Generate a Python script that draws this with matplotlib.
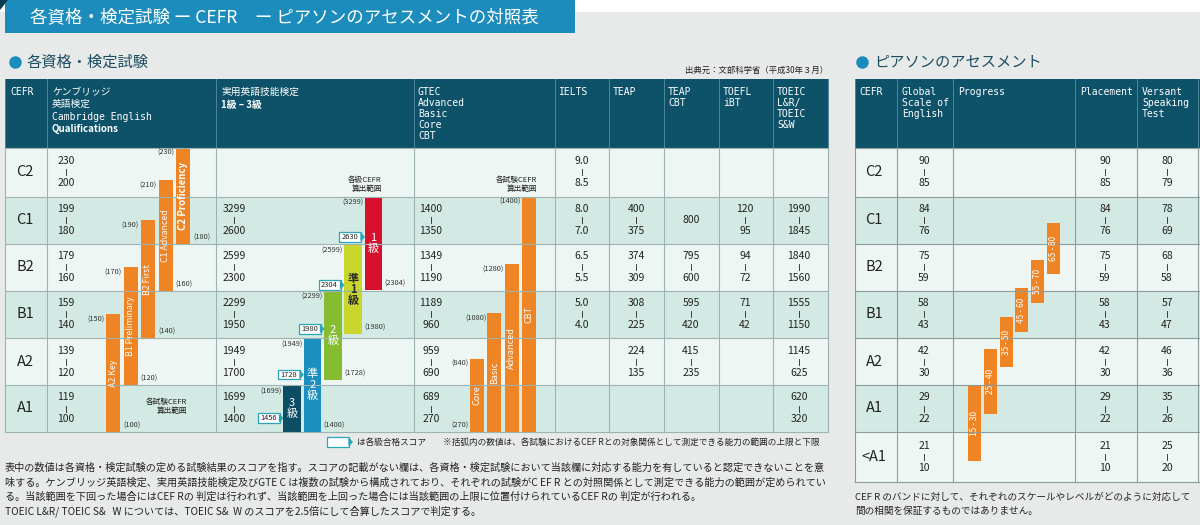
import numpy as np
import matplotlib
matplotlib.use("Agg")
import matplotlib.pyplot as plt
from matplotlib.patches import Rectangle, Polygon

JP = ["Noto Sans CJK JP", "DejaVu Sans"]
MONO = ["DejaVu Sans Mono", "Noto Sans CJK JP"]
plt.rcParams["font.family"] = JP

# ---- data: left table (各資格・検定試験) ----
CEFR = ["C2", "C1", "B2", "B1", "A2", "A1"]
CAMBRIDGE = [("230", "200"), ("199", "180"), ("179", "160"), ("159", "140"), ("139", "120"), ("119", "100")]
EIKEN = [None, ("3299", "2600"), ("2599", "2300"), ("2299", "1950"), ("1949", "1700"), ("1699", "1400")]
GTEC = [None, ("1400", "1350"), ("1349", "1190"), ("1189", "960"), ("959", "690"), ("689", "270")]
IELTS = [("9.0", "8.5"), ("8.0", "7.0"), ("6.5", "5.5"), ("5.0", "4.0"), None, None]
TEAP = [None, ("400", "375"), ("374", "309"), ("308", "225"), ("224", "135"), None]
TEAP_CBT = [None, ("800",), ("795", "600"), ("595", "420"), ("415", "235"), None]
TOEFL = [None, ("120", "95"), ("94", "72"), ("71", "42"), None, None]
TOEIC = [None, ("1990", "1845"), ("1840", "1560"), ("1555", "1150"), ("1145", "625"), ("620", "320")]

CAMB_EXAMS = ["A2 Key", "B1 Preliminary", "B2 First", "C1 Advanced", "C2 Proficiency"]
CAMB_LOW = [100, 120, 140, 160, 180]
CAMB_HIGH = [150, 170, 190, 210, 230]

EIKEN_GRADES = ["3\n級", "準\n2\n級", "2\n級", "準\n1\n級", "1\n級"]
EIKEN_LOW = [1400, 1400, 1728, 1980, 2304]
EIKEN_HIGH = [1699, 1949, 2299, 2599, 3299]
EIKEN_PASS = [1456, 1728, 1980, 2304, 2630]

GTEC_TYPES = ["Core", "Basic", "Advanced", "CBT"]
GTEC_LOW = [270, 270, 270, 270]
GTEC_HIGH = [840, 1080, 1280, 1400]

# ---- data: right table (ピアソンのアセスメント) ----
P_CEFR = ["C2", "C1", "B2", "B1", "A2", "A1", "<A1"]
GSE = [("90", "85"), ("84", "76"), ("75", "59"), ("58", "43"), ("42", "30"), ("29", "22"), ("21", "10")]
PLACEMENT = [("90", "85"), ("84", "76"), ("75", "59"), ("58", "43"), ("42", "30"), ("29", "22"), ("21", "10")]
VERSANT = [("80", "79"), ("78", "69"), ("68", "58"), ("57", "47"), ("46", "36"), ("35", "26"), ("25", "20")]
PROG_LOW = [15, 25, 35, 45, 55, 65]
PROG_HIGH = [30, 40, 50, 60, 70, 80]

# ---- style / layout ----
BG, HEAD, LIGHT, MINT = "#e8eaea", "#0d5269", "#eef6f4", "#d3eae4"
ORANGE, TEAL, TXT, GRID = "#ee8424", "#2aa6b8", "#222222", "#9fb2b2"
EIKEN_COLORS = ["#0c4d63", "#1b8fc0", "#86bd30", "#c9d62c", "#d6102d"]
EIKEN_TXT = ["white", "white", "white", "#2b2b2b", "white"]
ROW_Y = [148, 196.7, 244, 290.7, 338, 385, 432, 482]
COL_X = [5, 47, 216, 414, 555, 609, 664, 719, 773, 828]
P_COL_X = [855, 897, 953, 1075, 1137, 1198, 1230]
HEAD_TOP = 79

fig = plt.figure(figsize=(12, 5.25), dpi=100, facecolor=BG)
ax = fig.add_axes([0, 0, 1, 1])
ax.set_xlim(0, 1200)
ax.set_ylim(525, 0)
ax.axis("off")


def rect(x0, y0, x1, y1, **kw):
    ax.add_patch(Rectangle((x0, y0), x1 - x0, y1 - y0, **kw))


def band_scale(ranges, edges_y):
    idx = [i for i, r in enumerate(ranges) if r is not None]
    scores = [float(ranges[i][-1]) for i in reversed(idx)] + [float(ranges[idx[0]][0])]
    ys = [edges_y[i + 1] for i in reversed(idx)] + [edges_y[idx[0]]]
    return lambda s: np.interp(s, scores, ys)


def range_cell(xc, yc, vals, size=7.5):
    if vals is None:
        return
    if len(vals) == 1:
        ax.text(xc, yc, vals[0], ha="center", va="center", fontsize=size, color=TXT)
        return
    ax.text(xc, yc - 11, vals[0], ha="center", va="center", fontsize=size, color=TXT)
    ax.plot([xc, xc], [yc - 3, yc + 3], color=TXT, lw=0.6)
    ax.text(xc, yc + 11, vals[1], ha="center", va="center", fontsize=size, color=TXT)


def head_lines(x, lines, step=11.5, bold_last=False):
    for k, s in enumerate(lines):
        bold = bold_last and k == len(lines) - 1
        ax.text(x, 92 + k * step, s, ha="left", va="center", fontsize=7, color="white",
                family=JP if bold else MONO, fontweight="bold" if bold else "normal")


def badge(x_tip, yc, txt):
    w, h = 22, 9.5
    rect(x_tip - 3 - w, yc - h / 2, x_tip - 3, yc + h / 2, fc="white", ec=TEAL, lw=0.9)
    ax.add_patch(Polygon([(x_tip - 3, yc - 3.5), (x_tip, yc), (x_tip - 3, yc + 3.5)], color=TEAL))
    ax.text(x_tip - 3 - w / 2, yc, txt, ha="center", va="center", fontsize=5.4, color=TXT)


def small(x, y, s, ha):
    ax.text(x, y, s, ha=ha, va="center", fontsize=5.3, color="#333333")


# ---- title and headings ----
rect(0, 0, 1200, 12, fc="white", ec="none")
rect(5, 0, 575, 33, fc="#1b8cbc", ec="none")
ax.add_patch(Polygon([(0, 0), (7, 0), (0, 9)], color="#0b3d55"))
ax.text(30, 17, "各資格・検定試験 ー CEFR　ー ピアソンのアセスメントの対照表", ha="left", va="center",
        fontsize=12.6, color="white")
for xd, s in [(15, "各資格・検定試験"), (862, "ピアソンのアセスメント")]:
    ax.plot(xd, 62, "o", ms=8, color="#1b8cbc")
    ax.text(xd + 12, 62, s, ha="left", va="center", fontsize=11, color="#1d4f63")
ax.text(828, 70, "出典元：文部科学省（平成30年３月）", ha="right", va="center", fontsize=6, color=TXT)

# ---- left table grid ----
rect(COL_X[0], HEAD_TOP, COL_X[-1], ROW_Y[0], fc=HEAD, ec="none")
for i in range(6):
    rect(COL_X[0], ROW_Y[i], COL_X[-1], ROW_Y[i + 1], fc=LIGHT if i % 2 == 0 else MINT, ec="none")
for x in COL_X:
    ax.plot([x, x], [HEAD_TOP, ROW_Y[0]], color="#4f8597", lw=0.7)
    ax.plot([x, x], [ROW_Y[0], ROW_Y[6]], color=GRID, lw=0.8)
for y in ROW_Y[:7]:
    ax.plot([COL_X[0], COL_X[-1]], [y, y], color=GRID, lw=0.8)

head_lines(10, ["CEFR"])
head_lines(52, ["ケンブリッジ", "英語検定", "Cambridge English", "Qualifications"], step=12.3, bold_last=True)
head_lines(221, ["実用英語技能検定", "1級 – 3級"], step=12.5, bold_last=True)
head_lines(418, ["GTEC", "Advanced", "Basic", "Core", "CBT"], step=11)
head_lines(559, ["IELTS"])
head_lines(613, ["TEAP"])
head_lines(668, ["TEAP", "CBT"], step=11)
head_lines(723, ["TOEFL", "iBT"], step=11)
head_lines(777, ["TOEIC", "L&R/", "TOEIC", "S&W"], step=11)

for i, lvl in enumerate(CEFR):
    yc = (ROW_Y[i] + ROW_Y[i + 1]) / 2
    ax.text(25, yc, lvl, ha="center", va="center", fontsize=10.5, color=TXT)
    for xc, col in [(66, CAMBRIDGE), (234, EIKEN), (431, GTEC), (582, IELTS), (636, TEAP),
                    (691, TEAP_CBT), (745, TOEFL), (799, TOEIC)]:
        range_cell(xc, yc, col[i])

# ---- Cambridge bars ----
camb_y = band_scale(CAMBRIDGE, ROW_Y)
for k, (name, lo, hi) in enumerate(zip(CAMB_EXAMS, CAMB_LOW, CAMB_HIGH)):
    xc = 113 + k * 17.5
    yt, yb = camb_y(hi), camb_y(lo)
    ax.bar(xc, yb - yt, bottom=yt, width=14, color=ORANGE, edgecolor="none")
    bold = name.startswith("C2")
    ax.text(xc, (yt + yb) / 2, name, rotation=90, ha="center", va="center", color="white",
            fontsize=7 if bold else 6.3, fontweight="bold" if bold else "normal")
    small(xc - 9, yt + 5, f"({hi})", "right")
    small(xc + 10, yb - 6, f"({lo})", "left")
ax.text(187, 402, "各試験CEFR", ha="right", va="center", fontsize=5.5, color=TXT)
ax.text(187, 411, "算出範囲", ha="right", va="center", fontsize=5.5, color=TXT)

# ---- 英検 bars ----
eik_y = band_scale(EIKEN, ROW_Y)
eik_x = [292, 312.5, 333, 353, 373.5]
for k in range(5):
    xc = eik_x[k]
    yt, yb = eik_y(EIKEN_HIGH[k]), eik_y(EIKEN_LOW[k])
    ax.bar(xc, yb - yt, bottom=yt, width=17.5, color=EIKEN_COLORS[k], edgecolor="none")
    lines = EIKEN_GRADES[k].split("\n")
    y0 = (yt + yb) / 2 - (len(lines) - 1) * 5.5
    for j, s in enumerate(lines):
        ax.text(xc, y0 + j * 11, s, ha="center", va="center", fontsize=8, color=EIKEN_TXT[k],
                fontweight="bold" if EIKEN_TXT[k] != "white" else "normal")
    small(xc - 10, yt + 6, f"({EIKEN_HIGH[k]})", "right")
    if k > 0:
        small(xc + 11, yb - 6, f"({EIKEN_LOW[k]})", "left")
    badge(xc - 9.5, eik_y(EIKEN_PASS[k]) - 5, str(EIKEN_PASS[k]))
ax.text(382, 180, "各級CEFR", ha="right", va="center", fontsize=5.5, color=TXT)
ax.text(382, 189, "算出範囲", ha="right", va="center", fontsize=5.5, color=TXT)

# ---- GTEC bars ----
gtec_y = band_scale(GTEC, ROW_Y)
for k, (name, lo, hi) in enumerate(zip(GTEC_TYPES, GTEC_LOW, GTEC_HIGH)):
    xc = 477 + k * 17.3
    yt, yb = gtec_y(hi), gtec_y(lo)
    ax.bar(xc, yb - yt, bottom=yt, width=14, color=ORANGE, edgecolor="none")
    ax.text(xc, (yt + yb) / 2, name, rotation=90, ha="center", va="center", color="white", fontsize=6.5)
    small(xc - 8, yt + 5, f"({hi})", "right")
    if k == 0:
        small(xc - 8, yb - 6, f"({lo})", "right")
ax.text(537, 180, "各試験CEFR", ha="right", va="center", fontsize=5.5, color=TXT)
ax.text(537, 189, "算出範囲", ha="right", va="center", fontsize=5.5, color=TXT)

# ---- legend / footnotes (left) ----
badge(352, 442, "")
ax.text(357, 442, "は各級合格スコア", ha="left", va="center", fontsize=6.2, color=TXT)
ax.text(443, 442, "※括弧内の数値は、各試験におけるCEF Rとの対象関係として測定できる能力の範囲の上限と下限",
        ha="left", va="center", fontsize=6.2, color=TXT)
notes = [
    "表中の数値は各資格・検定試験の定める試験結果のスコアを指す。スコアの記載がない欄は、各資格・検定試験において当該欄に対応する能力を有していると認定できないことを意",
    "味する。ケンブリッジ英語検定、実用英語技能検定及びGTE C は複数の試験から構成されており、それぞれの試験がC EF R との対照関係として測定できる能力の範囲が定められてい",
    "る。当該範囲を下回った場合にはCEF Rの 判定は行われず、当該範囲を上回った場合には当該範囲の上限に位置付けられているCEF Rの 判定が行われる。",
    "TOEIC L&R/ TOEIC S&   W については、TOEIC S&  W のスコアを2.5倍にして合算したスコアで判定する。",
]
for k, s in enumerate(notes):
    ax.text(5, 468 + k * 14.3, s, ha="left", va="center", fontsize=7.3, color=TXT)

# ---- Pearson table ----
rect(P_COL_X[0], HEAD_TOP, 1200, ROW_Y[0], fc=HEAD, ec="none")
for i in range(7):
    rect(P_COL_X[0], ROW_Y[i], 1200, ROW_Y[i + 1], fc=LIGHT if i % 2 == 0 else MINT, ec="none")
for x in P_COL_X:
    ax.plot([x, x], [HEAD_TOP, ROW_Y[0]], color="#4f8597", lw=0.7)
    ax.plot([x, x], [ROW_Y[0], ROW_Y[7]], color="#8a9c9c", lw=0.8)
for y in ROW_Y:
    ax.plot([P_COL_X[0], 1200], [y, y], color="#8a9c9c", lw=0.8)

head_lines(859, ["CEFR"])
head_lines(902, ["Global", "Scale of", "English"], step=10.8)
head_lines(958, ["Progress"])
head_lines(1080, ["Placement"])
head_lines(1142, ["Versant", "Speaking", "Test"], step=10.8)

for i, lvl in enumerate(P_CEFR):
    yc = (ROW_Y[i] + ROW_Y[i + 1]) / 2
    ax.text(874, yc, lvl, ha="center", va="center", fontsize=10.5, color=TXT)
    range_cell(924, yc, GSE[i])
    range_cell(1105, yc, PLACEMENT[i])
    range_cell(1167, yc, VERSANT[i])

gse_y = band_scale(GSE, ROW_Y)
for k, (lo, hi) in enumerate(zip(PROG_LOW, PROG_HIGH)):
    xc = 974.5 + k * 15.8
    yt, yb = gse_y(hi), gse_y(lo)
    ax.bar(xc, yb - yt, bottom=yt, width=13, color=ORANGE, edgecolor="none")
    ax.text(xc, (yt + yb) / 2, f"{lo} - {hi}", rotation=90, ha="center", va="center",
            color="white", fontsize=6)

ax.text(855, 497, "CEF R のバンドに対して、それぞれのスケールやレベルがどのように対応して", ha="left",
        va="center", fontsize=6.9, color=TXT)
ax.text(855, 511, "間の相関を保証するものではありません。", ha="left", va="center", fontsize=6.9, color=TXT)

fig.savefig("out.png", dpi=100, facecolor=BG)
plt.close(fig)
